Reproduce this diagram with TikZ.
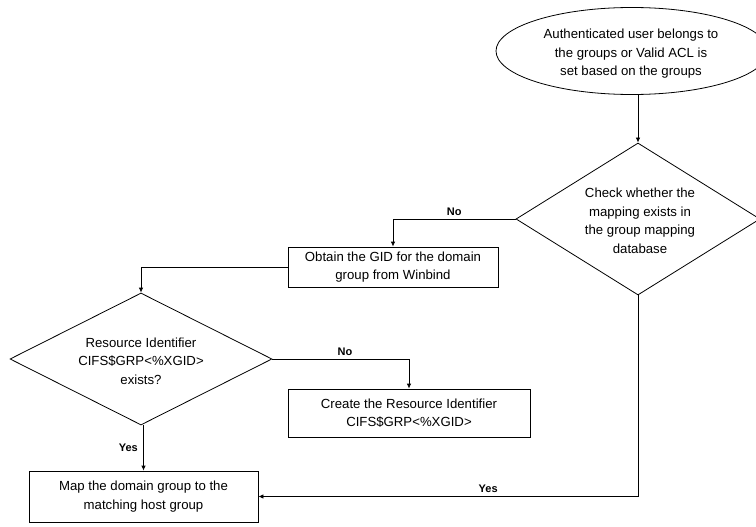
\documentclass[tikz,border=0pt]{standalone}
\usepackage{fontspec}
\setmainfont{Liberation Sans}
\usetikzlibrary{shapes.geometric,arrows.meta}
\begin{document}
\begin{tikzpicture}[x=1pt,y=-1pt,
  line width=0.8pt,
  flow/.style={-{Latex[length=5pt,width=4.5pt]}},
  txt/.style={font=\fontsize{13.2}{18.5}\selectfont, align=center},
  procbox/.style={draw, rectangle, inner sep=0pt, txt},
  decision/.style={draw, diamond, inner sep=0pt},
  startnode/.style={draw, ellipse, inner sep=0pt, txt},
  lbl/.style={font=\fontsize{11}{12}\selectfont\bfseries}]
\useasboundingbox (0,0) rectangle (756,527);

% start
\node[startnode, minimum width=272pt, minimum height=87pt] (e0) at (632,51) {};
\node[txt] (e0t) at (631,54) {Authenticated user belongs to\\the groups or Valid ACL is\\set based on the groups};

% decisions
\node[decision, minimum width=244pt, minimum height=152pt] (d1) at (638,219) {};
\node[txt] (d1t) at (640,221) {Check whether the\\mapping exists in\\the group mapping\\database};

\node[decision, minimum width=262pt, minimum height=132pt] (d2) at (141,359) {};
\node[txt] (d2t) at (141,361) {Resource Identifier\\CIFS\$GRP<\%XGID>\\exists?};

% process boxes
\node[procbox, minimum width=210pt, minimum height=40pt] (b1) at (393,267) {Obtain the GID for the domain\\group from Winbind};
\node[procbox, minimum width=242pt, minimum height=48pt] (b2) at (409,413) {Create the Resource Identifier\\CIFS\$GRP<\%XGID>};
\node[procbox, minimum width=229pt, minimum height=51pt] (b3) at (143.5,496.5) {Map the domain group to the\\matching host group};

% connectors
\draw[flow] (e0.south -| d1.north) -- (d1.north);
\draw[flow] (d1.west) -| (b1.north) node[lbl, pos=0.25, above] {No};
\draw[flow] (b1.west) -| (d2.north);
\draw[flow] (d2.east) -| (b2.north) node[lbl, pos=0.5, above, xshift=-64pt] {No};
\draw[flow] (d2.south -| b3.north) -- (b3.north) node[lbl, midway, left, xshift=-2pt] {Yes};
\draw[flow] (d1.south) |- (b3.east) node[lbl, pos=0.75, above, xshift=40pt] {Yes};
\end{tikzpicture}
\end{document}
